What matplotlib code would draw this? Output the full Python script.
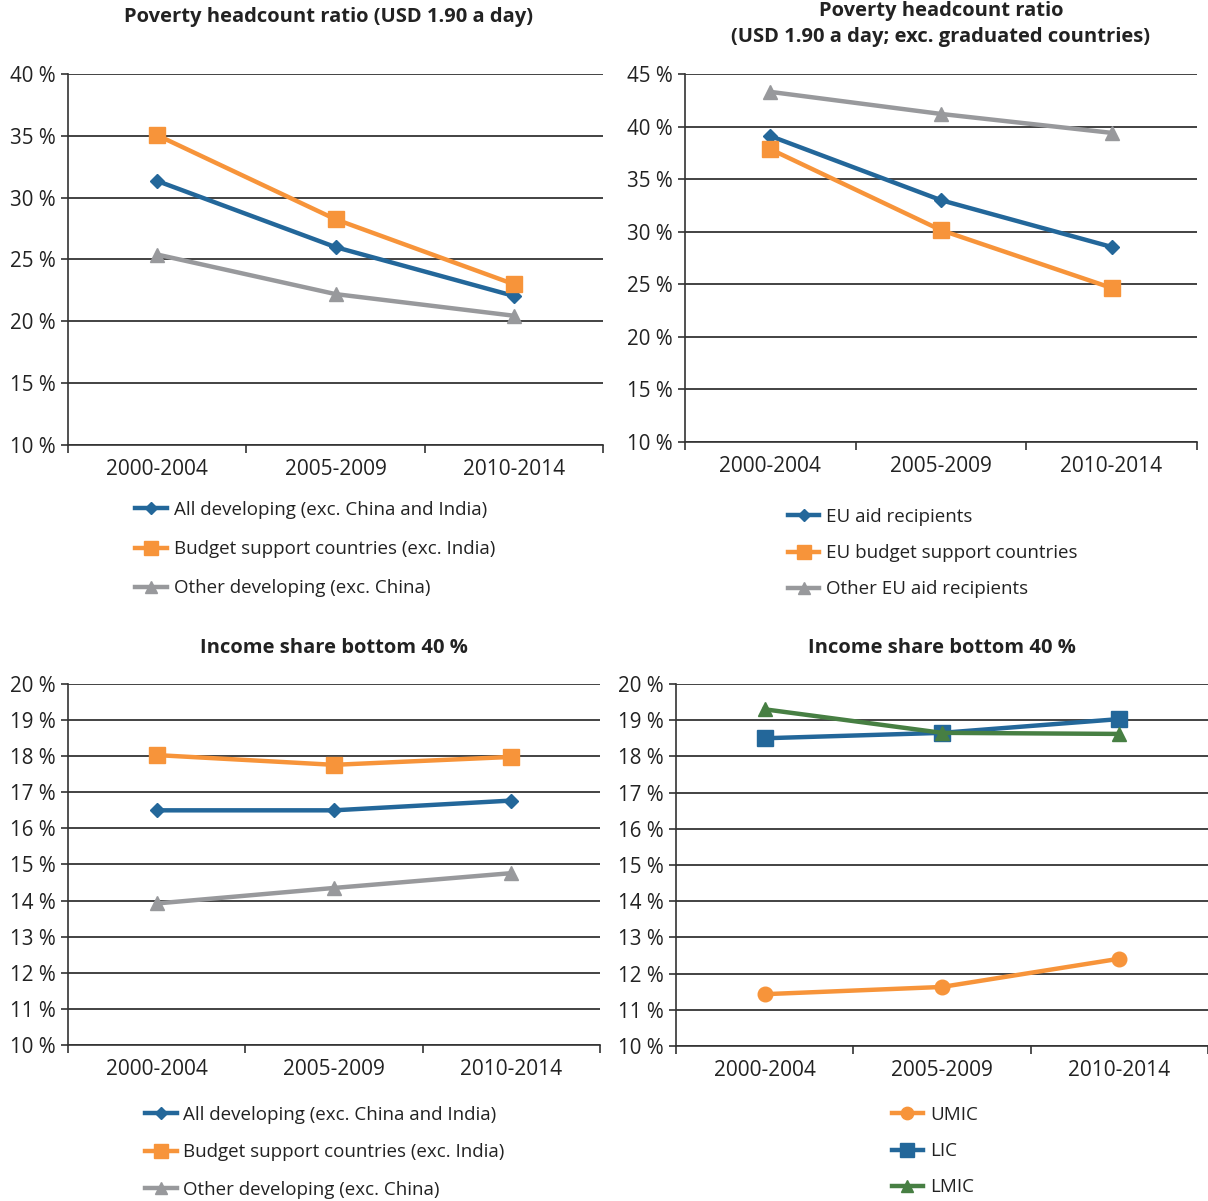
import matplotlib
matplotlib.use("Agg")
from matplotlib import pyplot as plt
from matplotlib.ticker import FuncFormatter, FixedLocator

periods = ["2000-2004", "2005-2009", "2010-2014"]

# top left: poverty headcount ratio (USD 1.90 a day)
pov_all_dev = [31.35, 26.0, 22.05]
pov_budget = [35.05, 28.25, 23.0]
pov_other = [25.4, 22.2, 20.45]

# top right: poverty headcount ratio, exc. graduated countries
eu_aid = [39.1, 33.0, 28.55]
eu_budget = [37.85, 30.15, 24.65]
eu_other = [43.3, 41.2, 39.4]

# bottom left: income share bottom 40 %
inc_all_dev = [16.5, 16.5, 16.77]
inc_budget = [18.03, 17.76, 17.98]
inc_other = [13.92, 14.35, 14.76]

# bottom right: income share bottom 40 % by income group
umic = [11.43, 11.63, 12.41]
lic = [18.5, 18.65, 19.03]
lmic = [19.3, 18.65, 18.62]

BLUE = "#23679a"
ORANGE = "#f7943a"
GREY = "#98999c"
GREEN = "#477f43"
TXT = "#222222"

plt.rcParams["font.family"] = ["Open Sans", "DejaVu Sans"]
plt.rcParams["text.color"] = TXT

fig = plt.figure(figsize=(12.08, 12.01), dpi=100)


def setup(ax, lo, hi, step, title, title_y, dx=0.0):
    ax.set_xlim(-0.5, 2.5)
    ax.set_ylim(lo, hi)
    ax.set_yticks(range(lo, hi + 1, step))
    ax.yaxis.set_major_formatter(FuncFormatter(lambda v, p: "%d %%" % v))
    ax.set_xticks([0, 1, 2])
    ax.set_xticklabels(periods)
    ax.xaxis.set_minor_locator(FixedLocator([-0.5, 0.5, 1.5, 2.5]))
    ax.tick_params(axis="x", which="major", length=0, pad=10, labelsize=15, labelcolor=TXT)
    ax.tick_params(axis="x", which="minor", length=6, width=1.2, color="#333333")
    ax.tick_params(axis="y", length=5, width=1.2, color="#333333", pad=4, labelsize=14.8, labelcolor=TXT)
    ax.grid(axis="y", color="#222222", linewidth=1.2)
    ax.set_axisbelow(True)
    for s in ["top", "right"]:
        ax.spines[s].set_visible(False)
    for s in ["left", "bottom"]:
        ax.spines[s].set_color("#333333")
        ax.spines[s].set_linewidth(1.2)
    bb = ax.get_position()
    fig.text((bb.x0 + bb.x1) / 2 + dx, title_y, title, ha="center", va="center",
             fontsize=14.5, fontweight="bold", linespacing=1.45)


def draw(ax, ys, color, marker, ms, label):
    ax.plot(range(len(periods)), ys, color=color, linewidth=3.2, marker=marker,
            markersize=ms, label=label, clip_on=False)


def legend(ax, x, y, spacing):
    ax.legend(loc="upper left", bbox_to_anchor=(x, y), bbox_transform=fig.transFigure,
              frameon=False, fontsize=13.5, handlelength=1.7, handletextpad=0.35,
              labelspacing=spacing, borderaxespad=0, borderpad=0, markerscale=0.85)


ax1 = fig.add_axes([0.0563, 0.6295, 0.4429, 0.3089])
draw(ax1, pov_all_dev, BLUE, "D", 7.5, "All developing (exc. China and India)")
draw(ax1, pov_budget, ORANGE, "s", 11.5, "Budget support countries (exc. India)")
draw(ax1, pov_other, GREY, "^", 10, "Other developing (exc. China)")
setup(ax1, 10, 40, 5, "Poverty headcount ratio (USD 1.90 a day)", 1 - 17 / 1201, dx=-0.006)
legend(ax1, 0.112, 1 - 501 / 1201, 1.13)

ax2 = fig.add_axes([0.567, 0.632, 0.4238, 0.3064])
draw(ax2, eu_aid, BLUE, "D", 7.5, "EU aid recipients")
draw(ax2, eu_budget, ORANGE, "s", 11.5, "EU budget support countries")
draw(ax2, eu_other, GREY, "^", 10, "Other EU aid recipients")
setup(ax2, 10, 45, 5, "Poverty headcount ratio\n(USD 1.90 a day; exc. graduated countries)", 1 - 24 / 1201)
legend(ax2, 0.652, 1 - 508 / 1201, 0.97)

ax3 = fig.add_axes([0.0563, 0.1299, 0.4404, 0.3006])
draw(ax3, inc_all_dev, BLUE, "D", 7.5, "All developing (exc. China and India)")
draw(ax3, inc_budget, ORANGE, "s", 11.5, "Budget support countries (exc. India)")
draw(ax3, inc_other, GREY, "^", 10, "Other developing (exc. China)")
setup(ax3, 10, 20, 1, "Income share bottom 40 %", 1 - 648 / 1201)
legend(ax3, 0.12, 1 - 1106 / 1201, 1.03)

ax4 = fig.add_axes([0.5596, 0.1291, 0.4404, 0.3014])
draw(ax4, umic, ORANGE, "o", 10.5, "UMIC")
draw(ax4, lic, BLUE, "s", 11.5, "LIC")
draw(ax4, lmic, GREEN, "^", 10, "LMIC")
setup(ax4, 10, 20, 1, "Income share bottom 40 %", 1 - 648 / 1201)
legend(ax4, 0.738, 1 - 1106 / 1201, 0.97)

fig.savefig("out.png", dpi=100)
